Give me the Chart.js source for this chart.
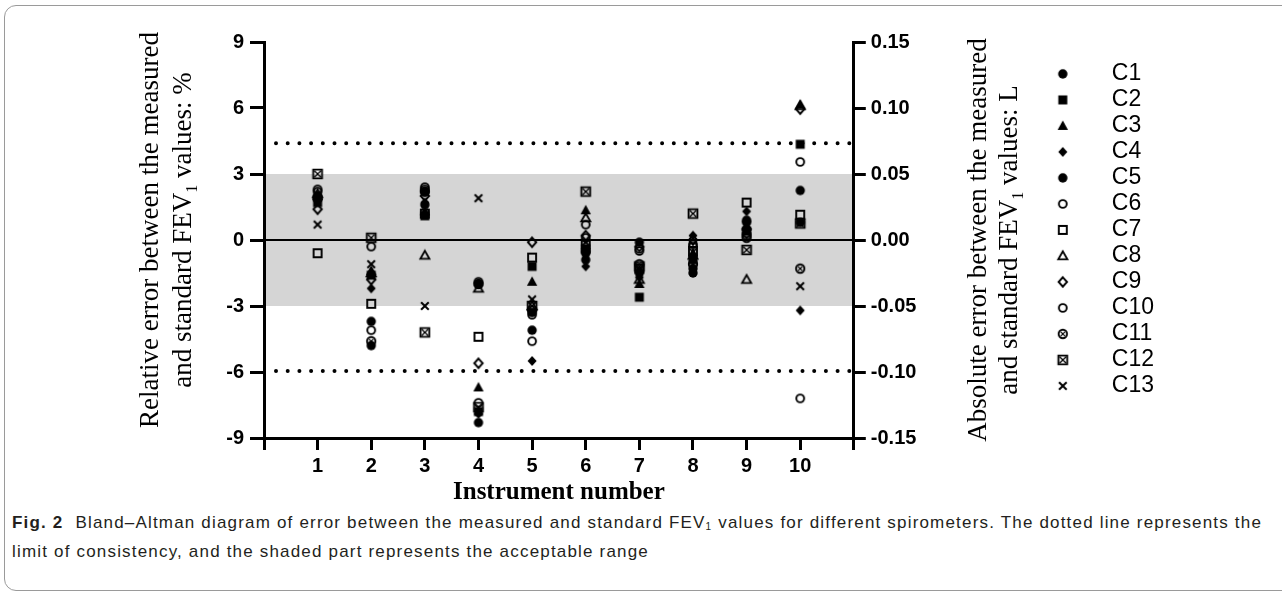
<!DOCTYPE html>
<html>
<head>
<meta charset="utf-8">
<script src="https://cdn.jsdelivr.net/npm/chart.js@4.4.1/dist/chart.umd.min.js"></script>
<style>
html, body { margin: 0; padding: 0; background: #fff; }
#wrap { position: relative; width: 1282px; height: 595px; overflow: hidden; }
#frame { position: absolute; left: 4px; top: 5px; width: 1300px; height: 584px; border: 1px solid #9a9a9a; border-radius: 12px; }
#chart { position: absolute; left: 0; top: 0; }
#caption { position: absolute; left: 12px; top: 510px; width: 1268px; font-family: 'Liberation Sans', sans-serif; font-size: 17px; line-height: 25px; color: #231f20; white-space: nowrap; }
#caption b { margin-right: 6px; }
#caption sub { font-size: 10px; vertical-align: -2px; }
</style>
</head>
<body>
<div id="wrap">
  <div id="frame"></div>
  <canvas id="chart" width="1282" height="510"></canvas>
  <div id="caption"><span id="line1"><b>Fig. 2</b> Bland–Altman diagram of error between the measured and standard FEV<sub>1</sub> values for different spirometers. The dotted line represents the</span><br>limit of consistency, and the shaded part represents the acceptable range</div>
</div>
<script>
// instrument numbers on the x axis
const instruments = [1, 2, 3, 4, 5, 6, 7, 8, 9, 10];
const seriesNames = ['C1', 'C2', 'C3', 'C4', 'C5', 'C6', 'C7', 'C8', 'C9', 'C10', 'C11', 'C12', 'C13'];

// relative error (%) per series, one value per instrument
const C1  = [1.9, -4.8, 1.6, -8.3, -3.3, -0.9, -0.1, -1.5, 0.8, 0.8];
const C2  = [1.7, -1.6, 1.1, -7.8, -1.2, -0.4, -2.6, -0.9, 0.4, 4.35];
const C3  = [2.0, -1.4, 1.3, -6.7, -1.9, 1.35, -2.0, -0.6, 0.6, 6.15];
const C4  = [1.8, -2.2, 1.7, -7.9, -5.5, -1.2, -1.7, 0.2, 1.3, -3.2];
const C5  = [2.0, -3.7, 2.2, -2.0, -4.1, -0.6, -1.5, -1.3, 0.9, 2.25];
const C6  = [2.3, -4.1, 2.4, -1.9, -3.4, 0.1, -0.5, -0.3, 0.2, 3.55];
const C7  = [-0.6, -2.9, 1.2, -4.4, -0.8, -0.2, -1.3, -0.5, 1.7, 1.15];
const C8  = [2.1, -1.5, -0.7, -2.2, -3.0, 1.0, -1.8, -0.7, -1.8, 6.1];
const C9  = [1.4, -1.8, 2.0, -5.6, -0.1, 0.2, -0.3, 0.0, 0.5, 5.95];
const C10 = [2.2, -0.3, 2.3, -7.4, -4.6, 0.7, -0.4, -0.2, 0.3, -7.2];
const C11 = [1.9, -4.6, 2.2, -2.0, -3.2, -0.5, -1.1, -1.1, 0.1, -1.3];
const C12 = [3.0, 0.1, -4.2, -7.6, -3.0, 2.2, -1.2, 1.2, -0.45, 0.75];
const C13 = [0.7, -1.1, -3.0, 1.9, -2.7, -0.1, -1.3, -0.8, 0.7, -2.1];
const seriesValues = [C1, C2, C3, C4, C5, C6, C7, C8, C9, C10, C11, C12, C13];

const markerKinds = ['dot', 'square', 'tri', 'diamond', 'dot', 'ring', 'box', 'triOpen', 'diamondOpen', 'ring', 'ringX', 'boxX', 'cross'];

const yTicks = [-9, -6, -3, 0, 3, 6, 9];
const y2Ticks = [-0.15, -0.10, -0.05, 0.00, 0.05, 0.10, 0.15];
const acceptable = [-3, 3];
const limits = [-5.95, 4.4];

// stretch caption line 1 to the width it has in the figure
const line1 = document.getElementById('line1');
const w1 = line1.getBoundingClientRect().width;
const n1 = line1.textContent.length;
document.getElementById('caption').style.letterSpacing = ((1250 - w1) / n1).toFixed(3) + 'px';

function marker(kind) {
  const cv = document.createElement('canvas');
  cv.width = 14; cv.height = 14;
  const g = cv.getContext('2d');
  g.translate(7, 7);
  g.fillStyle = '#000';
  g.strokeStyle = '#000';
  g.lineWidth = 1.9;
  g.beginPath();
  if (kind == 'dot') {
    g.arc(0, 0, 4.7, 0, Math.PI * 2); g.fill();
  } else if (kind == 'square') {
    g.fillRect(-4.5, -4.5, 9, 9);
  } else if (kind == 'tri') {
    g.moveTo(0, -5.4); g.lineTo(5.2, 4); g.lineTo(-5.2, 4); g.closePath(); g.fill();
  } else if (kind == 'diamond') {
    g.moveTo(0, -5); g.lineTo(4.5, 0); g.lineTo(0, 5); g.lineTo(-4.5, 0); g.closePath(); g.fill();
  } else if (kind == 'ring') {
    g.arc(0, 0, 3.9, 0, Math.PI * 2); g.stroke();
  } else if (kind == 'box') {
    g.rect(-4, -4, 8, 8); g.stroke();
  } else if (kind == 'triOpen') {
    g.moveTo(0, -4.6); g.lineTo(4.5, 3.4); g.lineTo(-4.5, 3.4); g.closePath(); g.stroke();
  } else if (kind == 'diamondOpen') {
    g.moveTo(0, -4.7); g.lineTo(4.2, 0); g.lineTo(0, 4.7); g.lineTo(-4.2, 0); g.closePath(); g.stroke();
  } else if (kind == 'ringX') {
    g.arc(0, 0, 4.2, 0, Math.PI * 2); g.stroke();
    g.lineWidth = 1.2; g.beginPath();
    g.moveTo(-2.4, -2.4); g.lineTo(2.4, 2.4); g.moveTo(2.4, -2.4); g.lineTo(-2.4, 2.4); g.stroke();
  } else if (kind == 'boxX') {
    g.rect(-4.4, -4.4, 8.8, 8.8); g.stroke();
    g.lineWidth = 1.3; g.beginPath();
    g.moveTo(-3.3, -3.3); g.lineTo(3.3, 3.3); g.moveTo(3.3, -3.3); g.lineTo(-3.3, 3.3); g.stroke();
  } else if (kind == 'cross') {
    g.lineWidth = 2;
    g.moveTo(-3.8, -3.8); g.lineTo(3.8, 3.8); g.moveTo(3.8, -3.8); g.lineTo(-3.8, 3.8); g.stroke();
  }
  return cv;
}

const datasets = seriesNames.map((name, i) => ({
  label: name,
  data: instruments.map((x, j) => ({x: x, y: seriesValues[i][j]})),
  pointStyle: marker(markerKinds[i]),
  pointRadius: 5,
  backgroundColor: '#000',
  borderColor: '#000',
  showLine: false
}));

// shaded band, zero line and dotted limits
const bands = {
  id: 'bands',
  beforeDraw(chart) {
    const {ctx, chartArea: {left, right}, scales: {y}} = chart;
    ctx.save();
    ctx.fillStyle = '#d5d5d5';
    const top = y.getPixelForValue(acceptable[1]);
    const bot = y.getPixelForValue(acceptable[0]);
    ctx.fillRect(left, top, right - left, bot - top);
    ctx.restore();
  },
  beforeDatasetsDraw(chart) {
    const {ctx, chartArea: {left, right}, scales: {y}} = chart;
    ctx.save();
    ctx.strokeStyle = '#000';
    ctx.lineWidth = 2;
    ctx.beginPath();
    ctx.moveTo(left, y.getPixelForValue(0));
    ctx.lineTo(right, y.getPixelForValue(0));
    ctx.stroke();
    ctx.lineWidth = 4;
    ctx.lineCap = 'round';
    ctx.setLineDash([0, 11.7]);
    limits.forEach(v => {
      const py = y.getPixelForValue(v);
      ctx.beginPath();
      ctx.moveTo(left + 12, py);
      ctx.lineTo(right - 4, py);
      ctx.stroke();
    });
    ctx.restore();
  }
};

// rotated two-line axis titles with subscript 1
function drawRotated(ctx, x, y, parts) {
  const font = '27px "Liberation Serif"';
  const subFont = '16px "Liberation Serif"';
  let total = 0;
  parts.forEach(p => {
    ctx.font = p[1] ? subFont : font;
    total += ctx.measureText(p[0]).width;
  });
  ctx.save();
  ctx.translate(x, y);
  ctx.rotate(-Math.PI / 2);
  ctx.fillStyle = '#000';
  ctx.textBaseline = 'middle';
  ctx.textAlign = 'left';
  let cx = -total / 2;
  parts.forEach(p => {
    ctx.font = p[1] ? subFont : font;
    ctx.fillText(p[0], cx, p[1] ? 9 : 0);
    cx += ctx.measureText(p[0]).width;
  });
  ctx.restore();
}

const axisTitles = {
  id: 'axisTitles',
  afterDraw(chart) {
    const ctx = chart.ctx;
    drawRotated(ctx, 151, 230, [['Relative error between the measured', false]]);
    drawRotated(ctx, 184, 230, [['and standard FEV', false], ['1', true], [' values: %', false]]);
    drawRotated(ctx, 979, 240, [['Absolute error between the measured', false]]);
    drawRotated(ctx, 1010, 240, [['and standard FEV', false], ['1', true], [' values: L', false]]);
  }
};

const tickFont = {family: 'Liberation Sans', size: 20, weight: 'bold'};
const axisGrid = {display: true, drawOnChartArea: false, drawTicks: true, color: '#000', lineWidth: 3};

new Chart(document.getElementById('chart'), {
  type: 'scatter',
  data: {datasets: datasets},
  options: {
    responsive: false,
    animation: false,
    layout: {padding: {top: 42, right: 118, bottom: 0, left: 0}},
    scales: {
      x: {
        type: 'linear', min: 0, max: 11,
        ticks: {stepSize: 1, color: '#000', font: tickFont, padding: 4,
          callback: v => (v >= 1 && v <= 10) ? String(instruments[v - 1]) : ''},
        grid: Object.assign({}, axisGrid, {tickLength: 12}),
        border: {display: true, color: '#000', width: 3},
        title: {display: true, text: 'Instrument number', color: '#000',
          font: {family: 'Liberation Serif', size: 25, weight: 'bold'}, padding: {top: 4, bottom: 2}},
        afterFit(scale) { scale.height = 72; }
      },
      y: {
        type: 'linear', position: 'left', min: yTicks[0], max: yTicks[yTicks.length - 1],
        ticks: {stepSize: 3, color: '#000', font: tickFont, padding: 6},
        grid: Object.assign({}, axisGrid, {tickLength: 14}),
        border: {display: true, color: '#000', width: 3},
        afterFit(scale) { scale.width = 264; }
      },
      y2: {
        type: 'linear', position: 'right', min: y2Ticks[0], max: y2Ticks[y2Ticks.length - 1],
        ticks: {stepSize: 0.05, color: '#000', font: tickFont, padding: 5,
          callback: v => Math.abs(v) < 1e-9 ? '0.00' : v.toFixed(2)},
        grid: Object.assign({}, axisGrid, {tickLength: 12}),
        border: {display: true, color: '#000', width: 3},
        afterFit(scale) { scale.width = 168.5; }
      }
    },
    plugins: {
      tooltip: {enabled: false},
      legend: {
        position: 'right', align: 'start',
        title: {display: true, text: ' ', font: {size: 12}, padding: {top: 0, bottom: 3}},
        labels: {usePointStyle: true, pointStyleWidth: 75, padding: 3, color: '#000',
          font: {family: 'Liberation Sans', size: 23, lineHeight: 1.0}}
      }
    }
  },
  plugins: [bands, axisTitles]
});
</script>
</body>
</html>
